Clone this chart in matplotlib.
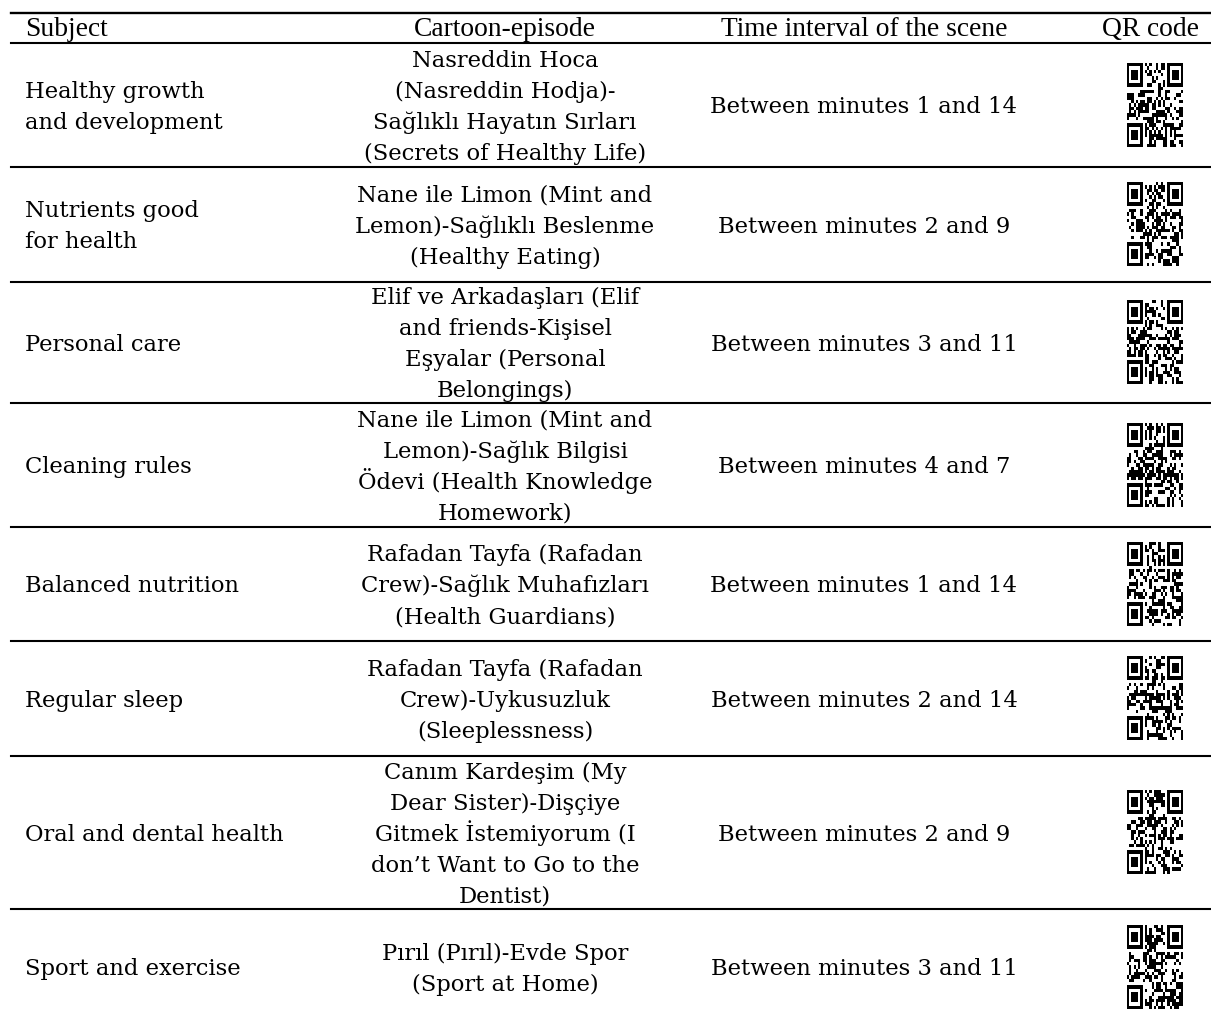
import hashlib
import numpy as np
import matplotlib
matplotlib.use("Agg")
import matplotlib.pyplot as plt

# table content
headers = ["Subject", "Cartoon-episode", "Time interval of the scene", "QR code"]

subjects = [
    "Healthy growth\nand development",
    "Nutrients good\nfor health",
    "Personal care",
    "Cleaning rules",
    "Balanced nutrition",
    "Regular sleep",
    "Oral and dental health",
    "Sport and exercise",
]

episodes = [
    "Nasreddin Hoca\n(Nasreddin Hodja)-\nSağlıklı Hayatın Sırları\n(Secrets of Healthy Life)",
    "Nane ile Limon (Mint and\nLemon)-Sağlıklı Beslenme\n(Healthy Eating)",
    "Elif ve Arkadaşları (Elif\nand friends-Kişisel\nEşyalar (Personal\nBelongings)",
    "Nane ile Limon (Mint and\nLemon)-Sağlık Bilgisi\nÖdevi (Health Knowledge\nHomework)",
    "Rafadan Tayfa (Rafadan\nCrew)-Sağlık Muhafızları\n(Health Guardians)",
    "Rafadan Tayfa (Rafadan\nCrew)-Uykusuzluk\n(Sleeplessness)",
    "Canım Kardeşim (My\nDear Sister)-Dişçiye\nGitmek İstemiyorum (I\ndon’t Want to Go to the\nDentist)",
    "Pırıl (Pırıl)-Evde Spor\n(Sport at Home)",
]

start_min = [1, 2, 3, 4, 1, 2, 2, 3]
end_min = [14, 9, 11, 7, 14, 14, 9, 11]

# layout (pixels)
W, H = 1211, 1016
row_lines = [43, 167, 282, 403, 527, 641, 756, 909, 1025]
top_line = 13
x_left, x_right = 11, 1211
x_subject = 25
x_episode = 505
x_interval = 864
x_qr = 1155
qr_w, qr_h = 56, 84
line_step = 31

body_font = "DejaVu Serif"
head_font = "Liberation Serif"
body_size = 16.3
cap_half = 0.729 * body_size * 100 / 72 / 2  # half cap height in px


def qr_matrix(text, n=25):
    # placeholder QR pattern: finder squares + bits taken from a hash of the text
    bits = []
    h = text.encode("utf-8")
    while len(bits) < n * n:
        h = hashlib.sha256(h).digest()
        for b in h:
            bits.extend((b >> k) & 1 for k in range(8))
    m = np.array(bits[:n * n]).reshape(n, n)

    def finder(r, c):
        m[max(r - 1, 0):r + 8, max(c - 1, 0):c + 8] = 0
        m[r:r + 7, c:c + 7] = 1
        m[r + 1:r + 6, c + 1:c + 6] = 0
        m[r + 2:r + 5, c + 2:c + 5] = 1

    finder(0, 0)
    finder(0, n - 7)
    finder(n - 7, 0)
    return m


def cell_text(ax, x, yc, text, ha):
    # one text per line so every line gets the same spacing
    lines = text.split("\n")
    k = len(lines)
    for j, s in enumerate(lines):
        y = yc + (j - (k - 1) / 2) * line_step + cap_half
        ax.text(x, y, s, ha=ha, va="baseline",
                fontfamily=body_font, fontsize=body_size)


fig = plt.figure(figsize=(W / 100, H / 100), dpi=100)
ax = fig.add_axes([0, 0, 1, 1])
ax.set_xlim(0, W)
ax.set_ylim(H, 0)
ax.axis("off")

# rules
ax.plot([x_left, x_right], [top_line, top_line], color="black", lw=1.7)
for y in row_lines:
    ax.plot([x_left, x_right], [y, y], color="black", lw=1.5)

# header
hy = (top_line + row_lines[0]) / 2 + 1
hkw = dict(fontfamily=head_font, fontsize=19.8, va="center")
ax.text(x_subject, hy, headers[0], ha="left", **hkw)
ax.text(x_episode, hy, headers[1], ha="center", **hkw)
ax.text(x_interval, hy, headers[2], ha="center", **hkw)
ax.text(1151, hy, headers[3], ha="center", **hkw)

for i in range(len(subjects)):
    y0, y1 = row_lines[i], row_lines[i + 1]
    yc = (y0 + y1) / 2
    cell_text(ax, x_subject, yc, subjects[i], "left")
    cell_text(ax, x_episode, yc, episodes[i], "center")
    cell_text(ax, x_interval, yc,
              f"Between minutes {start_min[i]} and {end_min[i]}", "center")
    m = qr_matrix(episodes[i])
    ax.imshow(1 - m, cmap="gray", vmin=0, vmax=1, interpolation="nearest",
              extent=[x_qr - qr_w / 2, x_qr + qr_w / 2,
                      yc + qr_h / 2, yc - qr_h / 2])

ax.set_xlim(0, W)
ax.set_ylim(H, 0)
ax.set_aspect("auto")
fig.savefig("out.png", dpi=100)
